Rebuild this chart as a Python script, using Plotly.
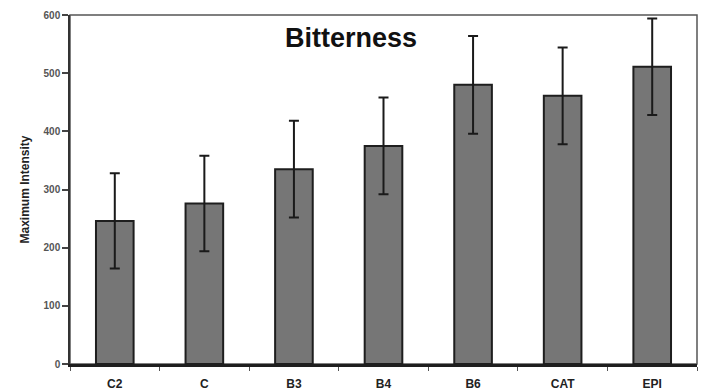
import plotly.graph_objects as go

categories = ["C2", "C", "B3", "B4", "B6", "CAT", "EPI"]
means = [246, 276, 335, 375, 480, 461, 511]
errors = [82, 82, 83, 83, 84, 83, 83]
y_ticks = [0, 100, 200, 300, 400, 500, 600]

fig = go.Figure()
fig.add_trace(go.Bar(
    x=categories, y=means,
    width=0.42,
    marker=dict(color="#767676", line=dict(color="#1e1e1e", width=2)),
    error_y=dict(type="data", array=errors, visible=True,
                 color="#1a1a1a", thickness=2, width=5),
    showlegend=False,
))

fig.update_layout(
    width=707, height=392,
    margin=dict(l=70, r=10, t=15, b=28),
    paper_bgcolor="white", plot_bgcolor="white",
    font=dict(family="Liberation Sans, Arial, sans-serif", color="#333333"),
    title=dict(text="<b>Bitterness</b>", x=351 / 707, xref="container", xanchor="center",
               y=0.905, yref="container", yanchor="middle",
               font=dict(size=27, color="#111111")),
    xaxis=dict(
        type="category", range=[-0.5, 6.5],
        showline=True, linecolor="#1e1e1e", linewidth=3,
        ticks="outside", tickson="boundaries", ticklen=4, tickwidth=1,
        tickcolor="#555555",
        tickfont=dict(size=12, color="#222222", weight="bold"),
        showgrid=False, zeroline=False,
        ticklabelstandoff=7, automargin=False,
    ),
    yaxis=dict(
        range=[0, 600], tickvals=y_ticks,
        showline=True, linecolor="#333333", linewidth=1.5,
        ticks="outside", ticklen=6, tickwidth=1.5, tickcolor="#444444",
        tickfont=dict(size=10, color="#555555", weight="bold"),
        showgrid=False, zeroline=False, automargin=False,
        title=dict(text="<b>Maximum Intensity</b>", standoff=11,
                   font=dict(size=12, color="#222222")),
    ),
    shapes=[dict(type="rect", xref="paper", yref="paper", x0=0, x1=1, y0=0, y1=1,
                 line=dict(color="#555555", width=1.5), layer="below")],
)

fig.write_html("out.html")
